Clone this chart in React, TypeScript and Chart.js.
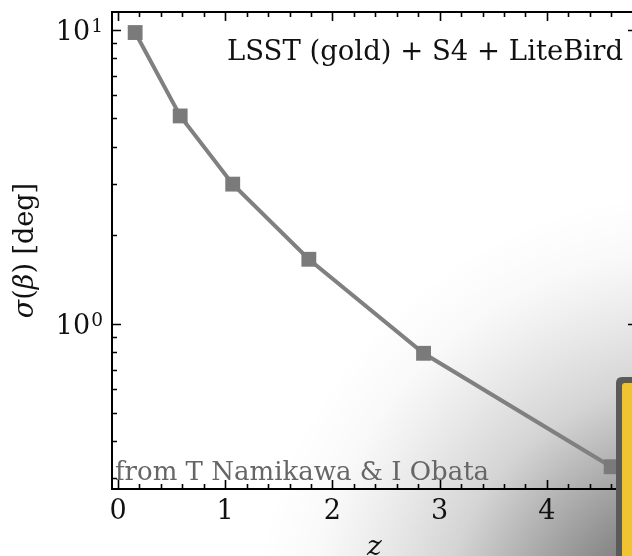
import React, { useEffect, useRef } from 'react';
import { Chart, registerables } from 'chart.js';

Chart.register(...registerables);

// ---- data ----
const redshifts = [0.16, 0.58, 1.07, 1.78, 2.85, 4.6];
const sigmaBeta = [9.8, 5.1, 2.99, 1.66, 0.795, 0.327];

// ---- axes ----
const xTickValues = [0, 1, 2, 3, 4];
const xMinorTickValues = [0.2, 0.4, 0.6, 0.8, 1.2, 1.4, 1.6, 1.8, 2.2, 2.4, 2.6, 2.8, 3.2, 3.4, 3.6, 3.8, 4.2, 4.4, 4.6, 4.8];
const xMin = -0.056;
const xMax = 4.841;
const yMajorTickValues = [1, 10];
const yMinorTickValues = [0.3, 0.4, 0.5, 0.6, 0.7, 0.8, 0.9, 2, 3, 4, 5, 6, 7, 8, 9];
const yMin = 0.2747;
const yMax = 11.51;

// ---- texts ----
const annotationText = 'LSST (gold) + S4 + LiteBird';
const creditText = 'from T Namikawa & I Obata';
const xTitle = 'z';
const yTitleParts = [
  { text: 'σ', italic: true },
  { text: '(', italic: false },
  { text: 'β', italic: true },
  { text: ') [deg]', italic: false },
];

const FONT = '"DejaVu Serif", serif';

const W = 660;
const H = 580;

const decorPlugin = {
  id: 'decor',
  beforeDraw(chart: any) {
    const ctx = chart.ctx as CanvasRenderingContext2D;
    ctx.save();
    ctx.fillStyle = '#ffffff';
    ctx.fillRect(0, 0, chart.width, chart.height);
    const cx = 700;
    const cy = 640;
    const g = ctx.createRadialGradient(cx, cy, 0, cx, cy, 450);
    g.addColorStop(0, 'rgba(0,0,0,0.72)');
    g.addColorStop(0.273, 'rgba(0,0,0,0.47)');
    g.addColorStop(0.422, 'rgba(0,0,0,0.32)');
    g.addColorStop(0.578, 'rgba(0,0,0,0.17)');
    g.addColorStop(0.7, 'rgba(0,0,0,0.1)');
    g.addColorStop(0.787, 'rgba(0,0,0,0.06)');
    g.addColorStop(0.87, 'rgba(0,0,0,0.025)');
    g.addColorStop(1, 'rgba(0,0,0,0)');
    ctx.fillStyle = g;
    ctx.fillRect(0, 0, chart.width, chart.height);
    ctx.restore();
  },
  afterDraw(chart: any) {
    const ctx = chart.ctx as CanvasRenderingContext2D;
    const { left, right, top, bottom } = chart.chartArea;
    const xs = chart.scales.x;
    const ys = chart.scales.y;
    ctx.save();
    // ticks (inward, all four sides)
    ctx.strokeStyle = '#000';
    ctx.lineWidth = 1.6;
    const major = 9;
    const minor = 5;
    ctx.beginPath();
    const xt = (v: number, len: number) => {
      const px = Math.round(xs.getPixelForValue(v)) + 0.5;
      ctx.moveTo(px, bottom);
      ctx.lineTo(px, bottom - len);
      ctx.moveTo(px, top);
      ctx.lineTo(px, top + len);
    };
    const yt = (v: number, len: number) => {
      const py = Math.round(ys.getPixelForValue(v)) + 0.5;
      ctx.moveTo(left, py);
      ctx.lineTo(left + len, py);
      ctx.moveTo(right, py);
      ctx.lineTo(right - len, py);
    };
    xTickValues.forEach((v) => xt(v, major));
    xMinorTickValues.forEach((v) => xt(v, minor));
    yMajorTickValues.forEach((v) => yt(v, major));
    yMinorTickValues.forEach((v) => yt(v, minor));
    ctx.stroke();
    // spines
    ctx.lineWidth = 2;
    ctx.strokeRect(left, top, right - left, bottom - top);

    // y tick labels: 10^n with superscript exponent
    ctx.fillStyle = '#111';
    ctx.textBaseline = 'alphabetic';
    ctx.textAlign = 'left';
    yMajorTickValues.forEach((v) => {
      const py = ys.getPixelForValue(v);
      const base = '10';
      const exp = String(Math.round(Math.log10(v)));
      ctx.font = `27px ${FONT}`;
      const wb = ctx.measureText(base).width;
      ctx.font = `18.5px ${FONT}`;
      const we = ctx.measureText(exp).width;
      const endX = left - 9;
      const startX = endX - wb - we - 1;
      ctx.font = `27px ${FONT}`;
      ctx.fillText(base, startX, py + 10);
      ctx.font = `18.5px ${FONT}`;
      ctx.fillText(exp, startX + wb + 1, py + 2);
    });

    // annotation
    ctx.fillStyle = '#111';
    ctx.font = `27.5px ${FONT}`;
    ctx.textAlign = 'right';
    ctx.textBaseline = 'alphabetic';
    ctx.fillText(annotationText, right - 14, top + 48);

    // credit
    ctx.fillStyle = '#666';
    ctx.font = `26px ${FONT}`;
    ctx.textAlign = 'left';
    ctx.fillText(creditText, left + 3, bottom - 9);

    // y title
    ctx.fillStyle = '#111';
    ctx.save();
    ctx.translate(26, (top + bottom) / 2);
    ctx.rotate(-Math.PI / 2);
    ctx.textBaseline = 'middle';
    ctx.textAlign = 'left';
    const fontFor = (it: boolean) => `${it ? 'italic ' : ''}27px ${FONT}`;
    let total = 0;
    yTitleParts.forEach((p) => {
      ctx.font = fontFor(p.italic);
      total += ctx.measureText(p.text).width;
    });
    let x0 = -total / 2;
    yTitleParts.forEach((p) => {
      ctx.font = fontFor(p.italic);
      ctx.fillText(p.text, x0, 0);
      x0 += ctx.measureText(p.text).width;
    });
    ctx.restore();

    // overlay box (bottom-right)
    const bx = 616;
    const by = 377;
    const rr = (x: number, y: number, w: number, h: number, r: number) => {
      ctx.beginPath();
      ctx.moveTo(x + r, y);
      ctx.lineTo(x + w - r, y);
      ctx.quadraticCurveTo(x + w, y, x + w, y + r);
      ctx.lineTo(x + w, y + h - r);
      ctx.quadraticCurveTo(x + w, y + h, x + w - r, y + h);
      ctx.lineTo(x + r, y + h);
      ctx.quadraticCurveTo(x, y + h, x, y + h - r);
      ctx.lineTo(x, y + r);
      ctx.quadraticCurveTo(x, y, x + r, y);
      ctx.closePath();
    };
    ctx.fillStyle = '#5a5a5a';
    rr(bx, by, 120, 300, 6);
    ctx.fill();
    ctx.fillStyle = '#f1c232';
    rr(bx + 6, by + 6, 110, 290, 3);
    ctx.fill();
    ctx.restore();
  },
};

const zeroPad = (s: any) => {
  s.paddingTop = 0;
  s.paddingBottom = 0;
  s.paddingLeft = 0;
  s.paddingRight = 0;
};

export default function App() {
  const ref = useRef<HTMLCanvasElement | null>(null);
  useEffect(() => {
    if (!ref.current) return;
    const chart = new Chart(ref.current, {
      type: 'line',
      data: {
        datasets: [
          {
            data: redshifts.map((z, i) => ({ x: z, y: sigmaBeta[i] })),
            borderColor: '#808080',
            borderWidth: 4,
            backgroundColor: '#7a7a7a',
            pointStyle: 'rect',
            pointRadius: 10.5,
            pointBackgroundColor: '#7a7a7a',
            pointBorderWidth: 0,
            pointHoverRadius: 10.5,
            tension: 0,
            fill: false,
          },
        ],
      },
      options: {
        responsive: false,
        animation: false,
        devicePixelRatio: 1,
        layout: { padding: { left: 0, top: 12, right: W - 637, bottom: 0 } },
        plugins: {
          legend: { display: false },
          tooltip: { enabled: false },
          title: { display: false },
        },
        events: [],
        scales: {
          x: {
            type: 'linear',
            position: 'bottom',
            min: xMin,
            max: xMax,
            afterBuildTicks: (s: any) => {
              s.ticks = xTickValues.map((v) => ({ value: v }));
            },
            afterFit: (s: any) => {
              s.height = H - 489;
              zeroPad(s);
            },
            ticks: {
              autoSkip: false,
              maxRotation: 0,
              color: '#111',
              padding: 7,
              font: { family: FONT, size: 27 },
              callback: (v: any) => String(v),
            },
            grid: { display: false, drawTicks: false },
            border: { display: false },
            title: {
              display: true,
              text: xTitle,
              color: '#111',
              font: { family: FONT, size: 28, style: 'italic' },
              padding: { top: 0, bottom: 15 },
            },
          },
          y: {
            type: 'logarithmic',
            position: 'left',
            min: yMin,
            max: yMax,
            afterBuildTicks: (s: any) => {
              s.ticks = yMajorTickValues.map((v) => ({ value: v }));
            },
            afterFit: (s: any) => {
              s.width = 112;
              zeroPad(s);
            },
            ticks: { display: false },
            grid: { display: false, drawTicks: false },
            border: { display: false },
            title: { display: false },
          },
        },
      },
      plugins: [decorPlugin],
    } as any);
    return () => chart.destroy();
  }, []);
  return (
    <div
      style={{
        position: 'fixed',
        left: 0,
        top: 0,
        width: 632,
        height: 556,
        overflow: 'hidden',
        background: '#fff',
      }}
    >
      <canvas ref={ref} width={W} height={H} style={{ width: W, height: H, display: 'block' }} />
    </div>
  );
}
